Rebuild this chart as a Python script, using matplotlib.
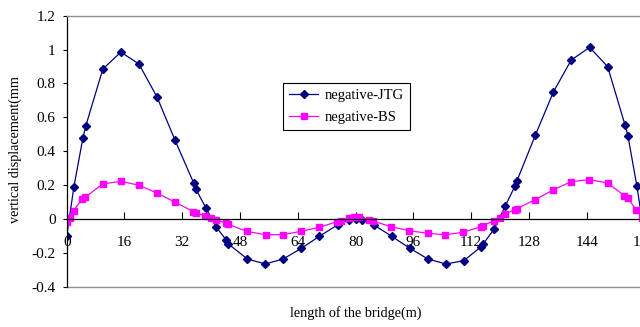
import matplotlib
matplotlib.use('Agg')
import matplotlib.pyplot as plt

# data
x_jtg = [0, 2, 4.5, 5.3, 10, 15, 20, 25, 30, 35.2, 35.8, 38.5, 41.4, 44.1, 44.8,
         50, 55, 60, 65, 70, 75, 78.2, 80, 81.8, 85, 90, 95, 100, 105, 110,
         114.8, 115.3, 118.4, 121.5, 124.2, 124.7, 129.8, 134.8, 139.7, 144.8,
         149.8, 154.6, 155.4, 157.9, 160]
y_jtg = [-0.1, 0.19, 0.48, 0.55, 0.885, 0.985, 0.915, 0.72, 0.465, 0.21,
         0.175, 0.067, -0.048, -0.122, -0.148, -0.236, -0.266, -0.236, -0.173, -0.102,
         -0.035, -0.004, 0.0, -0.004, -0.035, -0.102, -0.173, -0.236, -0.266, -0.246,
         -0.163, -0.148, -0.059, 0.079, 0.197, 0.226, 0.496, 0.751, 0.938, 1.013,
         0.899, 0.555, 0.492, 0.193, -0.1]

x_bs = [0, 0.8, 1.9, 4.3, 5.1, 10, 15, 20, 25, 30, 35.1, 35.7, 38.4, 39.9, 41.3,
        44.1, 44.8, 49.8, 55.1, 59.9, 64.9, 70, 74.9, 75.9, 78.2, 79.6, 81, 83.7,
        84.8, 89.7, 94.8, 100, 104.8, 109.8, 114.7, 115.3, 118.3, 120, 121.4, 124.1,
        124.6, 129.7, 134.7, 139.6, 144.7, 149.8, 154.4, 155.3, 157.7, 159.2, 160]
y_bs = [-0.016, 0.006, 0.049, 0.118, 0.128, 0.207, 0.222, 0.199, 0.153, 0.099,
        0.043, 0.035, 0.018, 0.005, -0.005, -0.024, -0.032, -0.073, -0.093, -0.093,
        -0.073, -0.049, -0.016, -0.01, 0.006, 0.012, 0.012, -0.006, -0.012, -0.045,
        -0.069, -0.085, -0.093, -0.079, -0.045, -0.04, -0.01, 0.006, 0.03, 0.055,
        0.06, 0.114, 0.171, 0.22, 0.232, 0.212, 0.138, 0.124, 0.055, 0.008, -0.016]

x_ticks = [0, 16, 32, 48, 64, 80, 96, 112, 128, 144, 160]
y_ticks = [-0.4, -0.2, 0, 0.2, 0.4, 0.6, 0.8, 1, 1.2]
y_tick_labels = ['-0.4', '-0.2', '0', '0.2', '0.4', '0.6', '0.8', '1', '1.2']

plt.rcParams['font.family'] = ['Liberation Serif', 'DejaVu Serif']

fig = plt.figure(figsize=(6.4, 3.27), dpi=100)
# plot area runs past the right edge, as in the cropped original
ax = fig.add_axes([66.7 / 640, 40.3 / 327, 577.8 / 640, 271 / 327])

ax.plot(x_jtg, y_jtg, color='#000080', lw=0.9, marker='D', ms=4.3,
        label='negative-JTG')
ax.plot(x_bs, y_bs, color='#FF00FF', lw=0.9, marker='s', ms=4.3,
        label='negative-BS')

ax.set_xlim(0, 160)
ax.set_ylim(-0.4, 1.2)
ax.set_xticks(x_ticks)
ax.set_yticks(y_ticks)
ax.set_yticklabels(y_tick_labels)

# x axis sits on y=0, frame lines in grey
ax.spines['bottom'].set_position(('data', 0))
ax.spines['bottom'].set_color('black')
ax.spines['bottom'].set_linewidth(0.9)
ax.spines['left'].set_color('black')
ax.spines['left'].set_linewidth(0.9)
ax.spines['top'].set_color('#909090')
ax.spines['top'].set_linewidth(1.0)
ax.spines['right'].set_visible(False)
ax.axhline(-0.4, color='#909090', lw=1.0, clip_on=False)

ax.tick_params(axis='x', direction='in', length=5, width=0.8, pad=12,
               labelsize=11)
ax.tick_params(axis='y', direction='out', length=3, width=0.8, pad=5,
               labelsize=11)

fig.text(356 / 640, 1 - 313 / 327, 'length of the bridge(m)',
         ha='center', va='center', fontsize=10.2)
fig.text(15 / 640, 1 - 150 / 327, 'vertical displacement(mm',
         ha='center', va='center', rotation=90, fontsize=10.2)

leg = ax.legend(loc='upper left', bbox_to_anchor=(283.3 / 640, 1 - 82.7 / 327),
                bbox_transform=fig.transFigure, borderaxespad=0, numpoints=1,
                fancybox=False, framealpha=1, edgecolor='black',
                handlelength=2.0, handletextpad=0.45, borderpad=0.4,
                labelspacing=0.6, fontsize=10.5)
leg.get_frame().set_linewidth(0.8)

fig.savefig('out.png', dpi=100)
